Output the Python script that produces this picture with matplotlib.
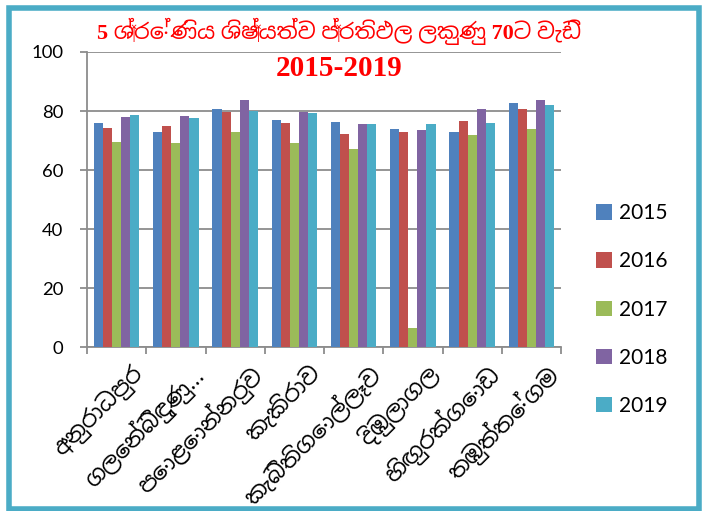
import matplotlib
matplotlib.use("Agg")
import matplotlib.pyplot as plt
from matplotlib import font_manager
from matplotlib.patches import Rectangle
from matplotlib.transforms import ScaledTranslation
import numpy as np

districts = ["අනුරාධපුර", "ගලෙන්බිඳුණු…", "පොළොන්නරුව", "කැකිරාව",
             "කැබිතිගොල්ලෑව", "දිඹුලාගල", "හිඟුරක්ගොඩ", "තඹුත්තේගම"]
years = ["2015", "2016", "2017", "2018", "2019"]

v2015 = [76.1, 72.9, 80.6, 77.1, 76.3, 73.9, 72.9, 82.6]
v2016 = [74.4, 74.8, 79.5, 75.9, 72.3, 72.9, 76.6, 80.6]
v2017 = [69.5, 69.3, 72.8, 69.1, 67.2, 6.6, 72.0, 73.9]
v2018 = [78.1, 78.3, 83.6, 79.5, 75.5, 73.7, 80.7, 83.6]
v2019 = [78.6, 77.6, 80.1, 79.3, 75.6, 75.6, 75.9, 82.0]

colors = ["#4F81BD", "#C0504D", "#9BBB59", "#8064A2", "#4BACC6"]

# look for any font that can draw Sinhala
sinhala = [f.name for f in font_manager.fontManager.ttflist
           if "sinhala" in f.name.lower() or "iskoola" in f.name.lower()]
sin_font = sinhala[0] if sinhala else "DejaVu Sans"

fig = plt.figure(figsize=(7.02, 5.11), dpi=100)
ax = fig.add_axes([87 / 702, 1 - 347 / 511, 474 / 702, 295 / 511])

x = np.arange(len(districts))
w = 0.153
for j, (vals, yr) in enumerate(zip([v2015, v2016, v2017, v2018, v2019], years)):
    ax.bar(x + (j - 2) * w, vals, w, color=colors[j], label=yr, zorder=3)

ax.set_xlim(-0.5, len(districts) - 0.5)
ax.set_ylim(0, 100)
ax.set_yticks(range(0, 101, 20))
ax.yaxis.grid(True, color="#8c8c8c", lw=1.3, zorder=0)
for s in ["top", "right"]:
    ax.spines[s].set_visible(False)
for s in ["left", "bottom"]:
    ax.spines[s].set_color("#8c8c8c")
    ax.spines[s].set_linewidth(1.3)

ax.tick_params(axis="y", length=5, width=1.3, color="#8c8c8c", pad=12,
               labelsize=13.3)
for t in ax.get_yticklabels():
    t.set_fontfamily("Lato")

ax.set_xticks(np.arange(-0.5, len(districts), 1.0))
ax.set_xticklabels([])
ax.tick_params(axis="x", length=5, width=1.3, color="#8c8c8c")
ax.set_xticks(x, minor=True)
ax.set_xticklabels(districts, minor=True, rotation=45, ha="right", va="top",
                   rotation_mode="anchor", fontsize=16.5,
                   family=[sin_font, "DejaVu Sans"])
ax.tick_params(axis="x", which="minor", length=0, pad=12)
# nudge the slanted names to the right, like the original
shift = ScaledTranslation(10 / 72, 2 / 72, fig.dpi_scale_trans)
for t in ax.get_xticklabels(minor=True):
    t.set_transform(t.get_transform() + shift)

leg = fig.legend(loc="center left", bbox_to_anchor=(596 / 702, 1 - 309.5 / 511),
                 frameon=False, borderpad=0, borderaxespad=0,
                 handlelength=0.75, handleheight=0.75, handletextpad=0.35,
                 labelspacing=1.35, prop={"family": "Lato", "size": 15})

fig.text(0.483, 1 - 31 / 511, "5 ශ්‍රේණිය ශිෂ්‍යත්ව ප්‍රතිඵල ලකුණු 70ට වැඩි",
         ha="center", va="center", color="red", fontsize=16, fontweight="bold",
         family=["Liberation Serif", sin_font, "DejaVu Sans"])
fig.text(0.483, 1 - 68 / 511, "2015-2019", ha="center", va="center",
         color="red", fontsize=21, fontweight="bold", family="Liberation Serif")

fig.patches.append(Rectangle((8.5 / 702, 2 / 511), 690 / 702, 500.5 / 511,
                             transform=fig.transFigure, fill=False,
                             edgecolor="#4BACC6", lw=4))

fig.savefig("out.png", dpi=100)
